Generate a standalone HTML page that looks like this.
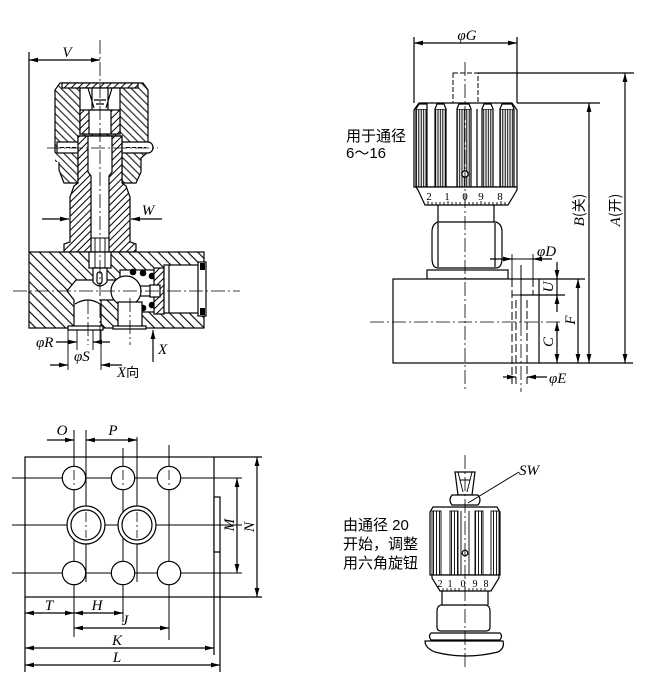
<!DOCTYPE html>
<html><head><meta charset="utf-8"><style>
html,body{margin:0;padding:0;background:#fff;}
svg{display:block}
.t{font-family:"Liberation Serif",serif;font-style:italic;font-size:15px;fill:#000;stroke:none}
.n{font-family:"Liberation Serif",serif;font-size:11px;fill:#000;stroke:none}
.c{font-family:"Liberation Sans","Noto Sans CJK SC",sans-serif;font-size:15px;fill:#000;stroke:none}
</style></head><body>
<svg width="652" height="680" viewBox="0 0 652 680" xmlns="http://www.w3.org/2000/svg">
<defs>
<pattern id="hb" patternUnits="userSpaceOnUse" width="7" height="7" patternTransform="rotate(-45)"><rect width="7" height="7" fill="#fff"/><line x1="3.5" y1="0" x2="3.5" y2="7" stroke="#000" stroke-width="1.1"/></pattern>
<pattern id="hc" patternUnits="userSpaceOnUse" width="5.5" height="5.5" patternTransform="rotate(-45)"><rect width="5.5" height="5.5" fill="#fff"/><line x1="2.7" y1="0" x2="2.7" y2="5.5" stroke="#000" stroke-width="1"/></pattern>
<pattern id="hf" patternUnits="userSpaceOnUse" width="5" height="5" patternTransform="rotate(45)"><rect width="5" height="5" fill="#fff"/><line x1="2.5" y1="0" x2="2.5" y2="5" stroke="#000" stroke-width="1"/></pattern>
<pattern id="vl" patternUnits="userSpaceOnUse" width="2.4" height="10"><rect width="2.4" height="10" fill="#fff"/><line x1="1.2" y1="0" x2="1.2" y2="10" stroke="#000" stroke-width="1"/></pattern>
<pattern id="vl2" patternUnits="userSpaceOnUse" width="3" height="10"><rect width="3" height="10" fill="#fff"/><line x1="1.5" y1="0" x2="1.5" y2="10" stroke="#000" stroke-width="0.9"/></pattern>
<marker id="ar" markerWidth="9" markerHeight="6" refX="9" refY="3" orient="auto-start-reverse" markerUnits="userSpaceOnUse"><path d="M0,0.6 L9,3 L0,5.4 z" fill="#000"/></marker>
</defs>

<!-- ================= LEFT SECTION VIEW ================= -->
<g stroke="#000" stroke-width="1.2" fill="none">
<line x1="29" y1="52" x2="29" y2="252"/>
<line x1="29" y1="60" x2="100" y2="60" marker-start="url(#ar)" marker-end="url(#ar)"/>

<!-- cap -->
<path d="M55,90 L60,83 L143,83 L148,90 L148,152 L141,158 L141,172 L136,183 L122,183 L122,136 L78,136 L78,183 L64,183 L59,170 L59,158 L55,152 Z" fill="url(#hc)"/>
<rect x="62" y="83" width="76" height="5" fill="url(#hf)"/>
<rect x="80" y="88" width="40" height="46" fill="#fff"/>
<path d="M88,88 L94,108 M112,88 L106,108 M92,88 L92,110 M108,88 L108,110 M94,100 L106,100 M96,104 L104,104"/>
<rect x="80" y="110" width="40" height="24" fill="url(#hf)"/>
<rect x="89" y="110" width="22" height="24" fill="#fff"/>
<!-- pins -->
<rect x="55" y="153" width="22" height="9" fill="url(#hc)" stroke="none"/>
<rect x="57" y="142" width="22" height="11" fill="#fff"/>
<line x1="60" y1="147.5" x2="77" y2="147.5" stroke-dasharray="4 2" stroke-width="0.9"/>
<path d="M122,142 L148,142 A5,5.5 0 0 1 148,153 L122,153 Z" fill="#fff"/>
<line x1="126" y1="147.5" x2="146" y2="147.5" stroke-dasharray="4 2" stroke-width="0.9"/>

<!-- bonnet -->
<path d="M78,136 L122,136 L122,183 L126,186 L130,197 L130,242 L136,244 L136,252 L64,252 L64,244 L70,242 L70,197 L74,186 L78,183 Z" fill="url(#hf)"/>
<path d="M88,136 L112,136 L112,172 L109,176 L109,262 L91,262 L91,176 L88,172 Z" fill="#fff"/>
<path d="M95,238 L95,262 M105,238 L105,262 M91,238 L109,238" stroke-width="0.9"/>

<!-- W -->
<line x1="42" y1="219" x2="69" y2="219" marker-end="url(#ar)"/>
<line x1="162" y1="219" x2="131" y2="219" marker-end="url(#ar)"/>

<!-- block -->
<rect x="29" y="252" width="175" height="76" fill="url(#hb)"/>
<rect x="89" y="252" width="22" height="16" fill="#fff"/>
<path d="M95,252 L95,268 M105,252 L105,268" stroke-width="0.9"/>
<path d="M76,280 L117,280 L117,300 L101,300 L101,328 L74,328 L74,300 L67,291 Z" fill="#fff"/>
<path d="M75,304 Q88,296 100,304" />
<path d="M93,268 L107,268 L107,282 Q100,290 93,282 Z" fill="#fff"/>
<rect x="97" y="272" width="5" height="12" rx="2.5" fill="#fff"/>
<rect x="120" y="270" width="40" height="42" fill="#fff"/>
<path d="M126,276 A16,16 0 0 0 126,306" fill="none"/>
<circle cx="126" cy="291" r="15" fill="#fff"/>
<line x1="140" y1="286" x2="152" y2="286"/><line x1="140" y1="296" x2="152" y2="296"/>
<g fill="#000" stroke="none">
<circle cx="133" cy="272" r="3.3"/><circle cx="143" cy="273" r="3.3"/><circle cx="152" cy="276" r="3.3"/>
<circle cx="133" cy="310" r="3.3"/><circle cx="143" cy="308" r="3.3"/><circle cx="152" cy="305" r="3.3"/>
</g>
<rect x="154" y="268" width="10" height="46" fill="url(#hf)"/>
<rect x="150" y="285" width="10" height="12" fill="#fff"/>
<rect x="164" y="265" width="35" height="48" fill="#fff"/>
<line x1="169" y1="265" x2="169" y2="313"/>
<rect x="198" y="262" width="8" height="54" fill="#fff"/>
<g fill="#000" stroke="none"><rect x="200" y="263" width="5" height="7"/><rect x="200" y="308" width="5" height="7"/></g>
<rect x="118" y="302" width="24" height="26" fill="#fff"/>
<rect x="68" y="326" width="35" height="4" fill="#fff"/>
<rect x="113" y="326" width="33" height="3" fill="#fff"/>

<!-- center lines -->
<g stroke-width="0.8" stroke-dasharray="14 3 2 3">
<line x1="100" y1="40" x2="100" y2="340"/>
<line x1="13" y1="291" x2="240" y2="291"/>
<line x1="47" y1="148" x2="158" y2="148"/>
<line x1="130" y1="298" x2="130" y2="345"/>
<line x1="88" y1="300" x2="88" y2="345"/>
</g>

<!-- port dims -->
<path d="M68,330 L68,370 M101,330 L101,370 M77,330 L77,350 M93,330 L93,350" stroke-width="0.9"/>
<line x1="56" y1="342" x2="77" y2="342" marker-end="url(#ar)"/>
<line x1="110" y1="342" x2="93" y2="342" marker-end="url(#ar)"/>
<line x1="50" y1="365" x2="68" y2="365" marker-end="url(#ar)"/>
<line x1="122" y1="365" x2="101" y2="365" marker-end="url(#ar)"/>
<line x1="153" y1="362" x2="153" y2="330" marker-end="url(#ar)"/>
</g>
<text class="t" x="67" y="57" text-anchor="middle">V</text>
<text class="t" x="148" y="215" text-anchor="middle">W</text>
<text class="t" x="36" y="347">φR</text>
<text class="t" x="74" y="361">φS</text>
<text class="t" x="158" y="354">X</text>
<text class="t" x="117" y="377">X<tspan style="font-style:normal;font-family:'Noto Sans CJK SC',sans-serif;font-size:13px">向</tspan></text>

<!-- ================= RIGHT TOP VIEW ================= -->
<g stroke="#000" stroke-width="1.2" fill="none">
<line x1="414" y1="37" x2="414" y2="103"/>
<line x1="517" y1="37" x2="517" y2="103"/>
<line x1="414" y1="43" x2="517" y2="43" marker-start="url(#ar)" marker-end="url(#ar)"/>
<rect x="453" y="73" width="25" height="30" stroke-dasharray="5 2" stroke-width="1"/>
<line x1="478" y1="73" x2="634" y2="73"/>
<line x1="517" y1="103" x2="600" y2="103"/>

<!-- knob -->
<path d="M414,110 L419,103 L512,103 L517,110 L517,187 L414,187 Z" fill="#fff"/>
<g fill="url(#vl)">
<rect x="416" y="109" width="11" height="78"/>
<rect x="435" y="109" width="11" height="78"/>
<rect x="457" y="109" width="14" height="78"/>
<rect x="482" y="109" width="11" height="78"/>
<rect x="500" y="109" width="14" height="78"/>
</g>
<path d="M416,109 L419,104 L427,104 L427,109 M435,109 L437,104 L444,104 L446,109 M457,109 L459,104 L469,104 L471,109 M482,109 L484,104 L491,104 L493,109 M500,109 L502,104 L512,104 L514,109" fill="#fff"/>
<line x1="477" y1="109" x2="477" y2="187"/>
<circle cx="465" cy="174" r="3.2" fill="#fff" stroke-width="1.3"/>
<!-- scale ring -->
<path d="M416,187 L517,187 L517,190 L508,205 L425,205 L418,190 Z" fill="#fff"/>
<path d="M428,205 L428,201 M432,205 L432,202 M436,205 L436,202 M440,205 L440,202 M444,205 L444,202 M448,205 L448,201 M452,205 L452,202 M456,205 L456,202 M460,205 L460,202 M465,205 L465,200 M469,205 L469,202 M473,205 L473,202 M477,205 L477,202 M481,205 L481,201 M485,205 L485,202 M489,205 L489,202 M493,205 L493,202 M497,205 L497,202 M501,205 L501,201 M505,205 L505,202" stroke-width="0.9"/>
<!-- neck & nut -->
<line x1="438" y1="205" x2="438" y2="222"/>
<line x1="494" y1="205" x2="494" y2="222"/>
<path d="M438,222 L496,222 Q502,224 502,232 L502,258 Q502,268 496,268 L438,268 Q432,268 432,258 L432,232 Q432,224 438,222 Z" fill="#fff"/>
<line x1="438" y1="223" x2="438" y2="267"/>
<line x1="495" y1="223" x2="495" y2="267"/>
<rect x="427" y="270" width="81" height="9" fill="#fff"/>
<!-- block -->
<rect x="393" y="279" width="146" height="84" fill="#fff"/>
<g stroke-width="1" stroke-dasharray="8 3">
<line x1="512" y1="279" x2="512" y2="384"/>
<line x1="533" y1="279" x2="533" y2="295"/>
<line x1="516" y1="300" x2="516" y2="384"/>
<line x1="527" y1="300" x2="527" y2="384"/>
</g>
<line x1="512" y1="295" x2="533" y2="295" stroke-width="1"/>
<line x1="521" y1="265" x2="521" y2="322" stroke-width="1"/>
<line x1="512" y1="254" x2="512" y2="279" stroke-width="0.9"/>
<line x1="533" y1="254" x2="533" y2="279" stroke-width="0.9"/>
<g stroke-width="0.8" stroke-dasharray="14 3 2 3">
<line x1="465" y1="62" x2="465" y2="390"/>
<line x1="370" y1="322" x2="560" y2="322"/>
<line x1="521" y1="322" x2="521" y2="392"/>
</g>
<!-- dims -->
<line x1="490" y1="259" x2="512" y2="259" marker-end="url(#ar)"/>
<line x1="552" y1="259" x2="533" y2="259" marker-end="url(#ar)"/>
<line x1="512" y1="259" x2="533" y2="259" stroke-width="0.9"/>
<line x1="503" y1="377" x2="516" y2="377" marker-end="url(#ar)"/>
<line x1="547" y1="377" x2="527" y2="377" marker-end="url(#ar)"/>
<line x1="539" y1="279" x2="585" y2="279"/>
<line x1="520" y1="295" x2="565" y2="295"/>
<line x1="539" y1="363" x2="633" y2="363"/>
<line x1="557" y1="262" x2="557" y2="279" marker-end="url(#ar)"/>
<line x1="557" y1="279" x2="557" y2="295"/>
<line x1="557" y1="312" x2="557" y2="295" marker-end="url(#ar)"/>
<line x1="557" y1="322" x2="557" y2="363" marker-start="url(#ar)" marker-end="url(#ar)"/>
<line x1="578" y1="279" x2="578" y2="363" marker-start="url(#ar)" marker-end="url(#ar)"/>
<line x1="589" y1="103" x2="589" y2="363" marker-start="url(#ar)" marker-end="url(#ar)"/>
<line x1="625" y1="73" x2="625" y2="363" marker-start="url(#ar)" marker-end="url(#ar)"/>
</g>
<text class="t" x="467" y="40" text-anchor="middle">φG</text>
<text class="t" x="537" y="256">φD</text>
<text class="t" x="549" y="383">φE</text>
<text class="t" transform="translate(553,287) rotate(-90)" text-anchor="middle">U</text>
<text class="t" transform="translate(575,320) rotate(-90)" text-anchor="middle">F</text>
<text class="t" transform="translate(553,342) rotate(-90)" text-anchor="middle">C</text>
<text class="t" transform="translate(584,210) rotate(-90)" text-anchor="middle">B<tspan style="font-style:normal;font-family:'Noto Sans CJK SC',sans-serif;font-size:14px">(关)</tspan></text>
<text class="t" transform="translate(620,210) rotate(-90)" text-anchor="middle">A<tspan style="font-style:normal;font-family:'Noto Sans CJK SC',sans-serif;font-size:14px">(开)</tspan></text>
<g class="n">
<text class="n" x="429" y="200" text-anchor="middle">2</text>
<text class="n" x="447" y="200" text-anchor="middle">1</text>
<text class="n" x="465" y="200" text-anchor="middle">0</text>
<text class="n" x="481" y="200" text-anchor="middle">9</text>
<text class="n" x="500" y="200" text-anchor="middle">8</text>
</g>
<text class="c" x="346" y="141">用于通径</text>
<text class="c" x="346" y="158">6～16</text>

<!-- ================= BOTTOM LEFT PLAN VIEW ================= -->
<g stroke="#000" stroke-width="1.2" fill="none">
<rect x="25" y="457" width="189" height="140" fill="#fff"/>
<rect x="214" y="497" width="6" height="55" fill="#fff"/>
<g stroke-width="1">
<line x1="12" y1="478" x2="242" y2="478"/>
<line x1="12" y1="525" x2="242" y2="525"/>
<line x1="12" y1="573" x2="242" y2="573"/>
<line x1="74" y1="430" x2="74" y2="637"/>
<line x1="86" y1="430" x2="86" y2="582"/>
<line x1="123" y1="448" x2="123" y2="622"/>
<line x1="137" y1="437" x2="137" y2="582"/>
<line x1="169" y1="445" x2="169" y2="640"/>
</g>
<g fill="#fff">
<circle cx="74" cy="478" r="11.7"/><circle cx="123" cy="478" r="11.7"/><circle cx="169" cy="478" r="11.7"/>
<circle cx="74" cy="573" r="11.7"/><circle cx="123" cy="573" r="11.7"/><circle cx="169" cy="573" r="11.7"/>
<circle cx="86" cy="525" r="19"/><circle cx="137" cy="525" r="19"/>
<circle cx="86" cy="525" r="15"/><circle cx="137" cy="525" r="15"/>
</g>
<g stroke-width="0.8" stroke-dasharray="10 3 2 3">
<line x1="74" y1="470" x2="74" y2="486"/><line x1="123" y1="470" x2="123" y2="486"/><line x1="169" y1="470" x2="169" y2="486"/>
<line x1="86" y1="512" x2="86" y2="538"/><line x1="137" y1="512" x2="137" y2="538"/>
</g>
<line x1="214" y1="457" x2="262" y2="457"/>
<line x1="214" y1="597" x2="262" y2="597"/>
<line x1="237" y1="478" x2="237" y2="573" marker-start="url(#ar)" marker-end="url(#ar)"/>
<line x1="257" y1="457" x2="257" y2="597" marker-start="url(#ar)" marker-end="url(#ar)"/>
<line x1="47" y1="440" x2="74" y2="440" marker-end="url(#ar)"/>
<line x1="86" y1="440" x2="137" y2="440" marker-start="url(#ar)" marker-end="url(#ar)"/>
<line x1="25" y1="597" x2="25" y2="672"/>
<line x1="214" y1="597" x2="214" y2="655"/>
<line x1="220" y1="552" x2="220" y2="672"/>
<line x1="25" y1="613" x2="74" y2="613" marker-start="url(#ar)" marker-end="url(#ar)"/>
<line x1="74" y1="613" x2="123" y2="613" marker-start="url(#ar)" marker-end="url(#ar)"/>
<line x1="74" y1="628" x2="169" y2="628" marker-start="url(#ar)" marker-end="url(#ar)"/>
<line x1="25" y1="648" x2="214" y2="648" marker-start="url(#ar)" marker-end="url(#ar)"/>
<line x1="25" y1="665" x2="220" y2="665" marker-start="url(#ar)" marker-end="url(#ar)"/>
</g>
<text class="t" x="62" y="435" text-anchor="middle">O</text>
<text class="t" x="113" y="435" text-anchor="middle">P</text>
<text class="t" x="49" y="610" text-anchor="middle">T</text>
<text class="t" x="97" y="610" text-anchor="middle">H</text>
<text class="t" x="125" y="625" text-anchor="middle">J</text>
<text class="t" x="117" y="645" text-anchor="middle">K</text>
<text class="t" x="117" y="662" text-anchor="middle">L</text>
<text class="t" transform="translate(234,525) rotate(-90)" text-anchor="middle">M</text>
<text class="t" transform="translate(254,527) rotate(-90)" text-anchor="middle">N</text>

<!-- ================= BOTTOM RIGHT VIEW ================= -->
<g stroke="#000" stroke-width="1.2" fill="none">
<path d="M455,472 L475,472 L472,495 L458,495 Z" fill="#fff"/>
<path d="M458,472 L463,492 M472,472 L467,492 M460,480 L470,480" stroke-width="0.9"/>
<path d="M452,495 L478,495 Q482,500 478,505 L452,505 Q448,500 452,495 Z" fill="#fff"/>
<path d="M433,507 L497,507 L500,512 L500,575 L430,575 L430,512 Z" fill="#fff"/>
<g fill="url(#vl2)" stroke-width="0.9">
<rect x="432" y="511" width="9" height="64"/>
<rect x="450" y="511" width="8" height="64"/>
<rect x="475" y="511" width="8" height="64"/>
<rect x="491" y="511" width="8" height="64"/>
</g>
<path d="M461,511 L461,575 M469,511 L469,575" stroke-width="0.9"/>
<circle cx="465" cy="553" r="2.8" fill="#fff"/>
<path d="M432,575 L499,575 L499,578 L491,591 L440,591 L432,578 Z" fill="#fff"/>
<path d="M443,591 L443,588 M447,591 L447,588 M451,591 L451,588 M455,591 L455,588 M459,591 L459,588 M465,591 L465,586 M469,591 L469,588 M473,591 L473,588 M477,591 L477,588 M481,591 L481,588 M485,591 L485,588" stroke-width="0.8"/>
<line x1="442" y1="591" x2="442" y2="605"/>
<line x1="488" y1="591" x2="488" y2="605"/>
<path d="M441,605 L486,605 Q490,606 490,611 L490,627 Q490,631 486,631 L441,631 Q437,631 437,627 L437,611 Q437,606 441,605 Z" fill="#fff"/>
<path d="M431,633 L500,633 Q503,636 500,640 L431,640 Q428,636 431,633 Z" fill="#fff"/>
<path d="M425,641 L503,641 Q505,648 498,652 Q465,660 435,652 Q425,648 425,641 Z" fill="#fff"/>
<line x1="519" y1="472" x2="468" y2="503" stroke-width="1"/>
<line x1="465" y1="455" x2="465" y2="670" stroke-width="0.8" stroke-dasharray="14 3 2 3"/>
</g>
<text class="t" x="519" y="475">SW</text>
<text class="n" x="440" y="587" text-anchor="middle" style="font-size:10px">2</text>
<text class="n" x="450" y="587" text-anchor="middle" style="font-size:10px">1</text>
<text class="n" x="463" y="587" text-anchor="middle" style="font-size:10px">0</text>
<text class="n" x="475" y="587" text-anchor="middle" style="font-size:10px">9</text>
<text class="n" x="486" y="587" text-anchor="middle" style="font-size:10px">8</text>
<text class="c" x="343" y="530">由通径 20</text>
<text class="c" x="343" y="549">开始，调整</text>
<text class="c" x="343" y="568">用六角旋钮</text>
</svg>
</body></html>
